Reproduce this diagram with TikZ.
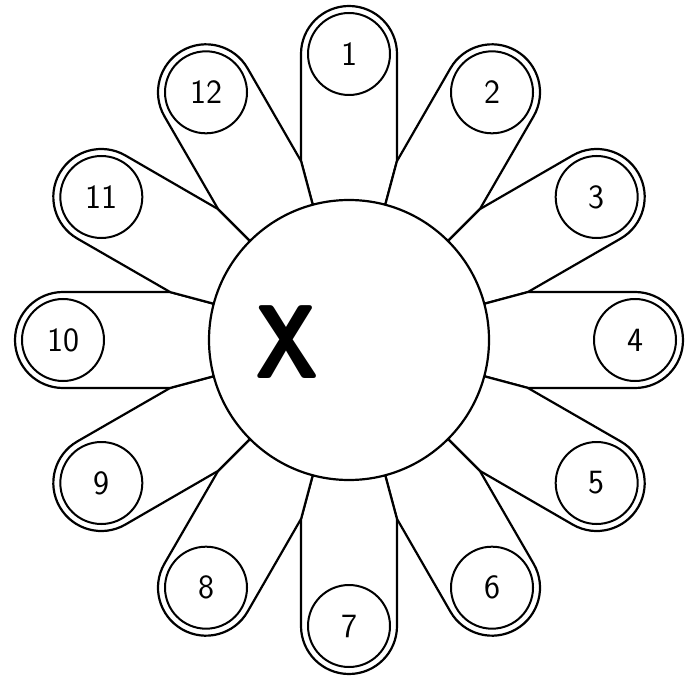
\documentclass[tikz,border=0pt]{standalone}
\usepackage{tikz}
\usetikzlibrary{calc}

% one petal, lying along the x axis, pointing outwards from the hub
\newcommand{\petalpath}{(135.2,-36.2) -- (178.7,-47.9) -- (286,-48) arc[start angle=-90,end angle=90,radius=48] -- (178.7,47.9) -- (135.2,36.2) -- cycle}

\tikzset{
  petal/.style = {draw, fill=white, line width=2.2pt, line join=round},
  hub/.style = {draw, circle, fill=white, line width=2.2pt, minimum size=280pt, inner sep=0pt},
  tip/.style = {draw, circle, line width=2pt, minimum size=82pt, inner sep=0pt, font=\fontsize{34}{34}\selectfont\sffamily},
}

\begin{document}
\begin{tikzpicture}[x=1pt, y=1pt]
  \useasboundingbox (0,0) rectangle (687,681);

  % petals, number 1 at the top, going clockwise
  \foreach \i in {1,...,12}
    \path[petal, shift={(349,341)}, rotate={120-30*\i}] \petalpath;

  \node[hub] (hub) at (349,341) {};

  % numbered tips
  \foreach \i in {1,...,12}
    \node[tip] (n\i) at ($(349,341)+({120-30*\i}:286)$) {\i};

  \node[font=\fontsize{105}{105}\selectfont\sffamily\bfseries, xscale=0.85] (mark) at (287,339) {X};
\end{tikzpicture}
\end{document}
